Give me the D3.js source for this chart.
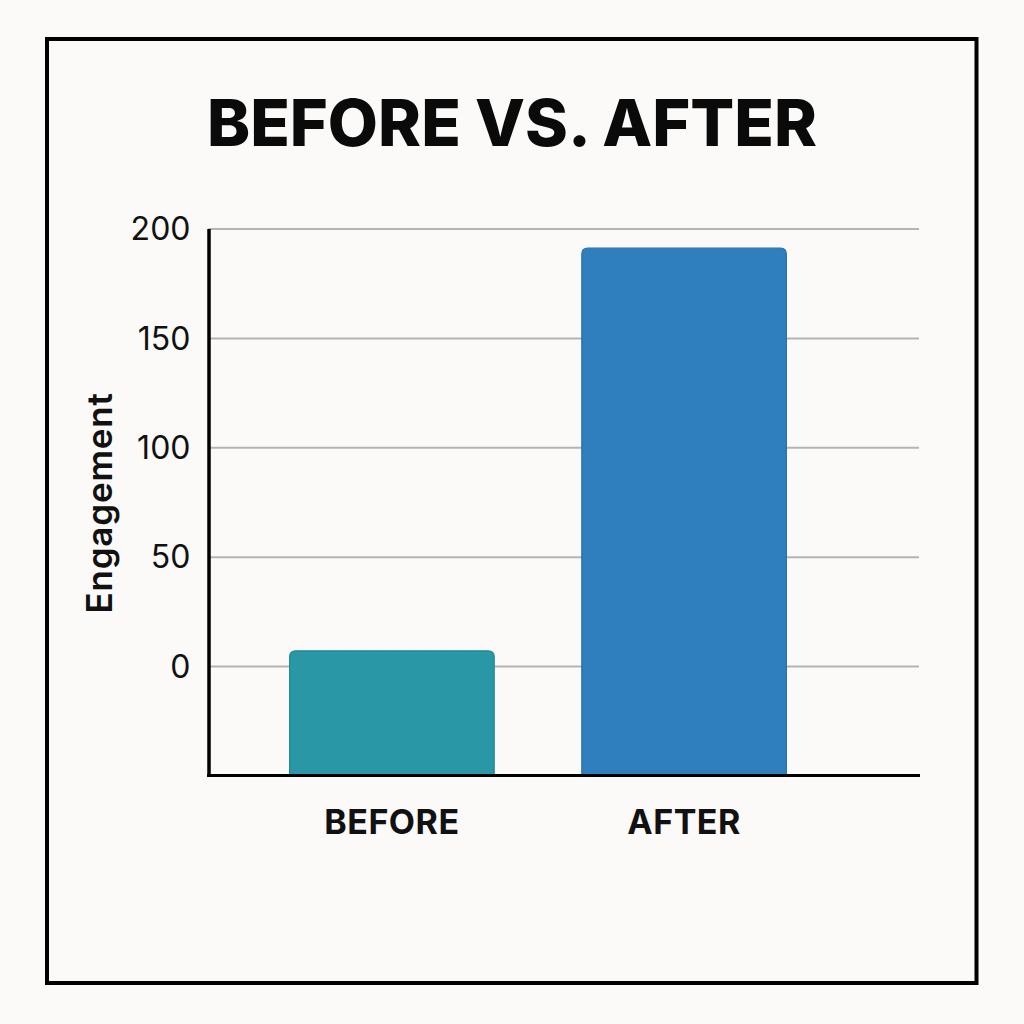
<!DOCTYPE html>
<html>
<head>
<meta charset="utf-8">
<script src="https://cdn.jsdelivr.net/npm/d3@7"></script>
<style>
  html, body { margin: 0; padding: 0; background: #fbfaf8; }
  svg { display: block; }
</style>
</head>
<body>
<svg id="chart" width="1024" height="1024"></svg>
<script>
const categories = ["BEFORE", "AFTER"];
const values = [7, 191];
const barColors = ["#2a97a6", "#2f7ebd"];
const barStrokes = ["#1f8797", "#2270b2"];
const yTicks = [0, 50, 100, 150, 200];
const yDomain = [-50, 200];
const titleText = "BEFORE VS. AFTER";
const yLabel = "Engagement";

const svg = d3.select("#chart");
const font = "Inter, 'Noto Sans', sans-serif";

svg.append("rect").attr("width", 1024).attr("height", 1024).attr("fill", "#fbfaf8");
svg.append("rect")
  .attr("x", 47).attr("y", 39).attr("width", 929.5).attr("height", 944)
  .attr("fill", "none").attr("stroke", "#000").attr("stroke-width", 4);

const plotLeft = 208.5, plotRight = 919;
const y = d3.scaleLinear().domain(yDomain).range([775.5, 228.5]);
const x = d3.scaleBand().domain(categories).range([202, 874]).paddingInner(0.3).paddingOuter(0.3);

// gridlines
const grid = svg.append("g").attr("transform", `translate(${plotLeft},0)`)
  .call(d3.axisRight(y).tickValues(yTicks).tickSize(plotRight - plotLeft).tickFormat(""));
grid.select(".domain").remove();
grid.selectAll("line").attr("stroke", "#b4b4b4").attr("stroke-width", 2);

// bars with rounded top corners
const r = 6;
svg.append("g").selectAll("path").data(categories).join("path")
  .attr("d", (d, i) => {
    const x0 = x(d), w = x.bandwidth(), y0 = y(values[i]), yb = y(yDomain[0]);
    return `M${x0},${yb}V${y0 + r}Q${x0},${y0} ${x0 + r},${y0}H${x0 + w - r}Q${x0 + w},${y0} ${x0 + w},${y0 + r}V${yb}Z`;
  })
  .attr("fill", (d, i) => barColors[i])
  .attr("stroke", (d, i) => barStrokes[i])
  .attr("stroke-width", 1.2);

// y axis
const yAxis = svg.append("g").attr("transform", `translate(${plotLeft},0)`)
  .call(d3.axisLeft(y).tickValues(yTicks).tickSize(0).tickPadding(18));
yAxis.select(".domain").attr("stroke", "#000").attr("stroke-width", 3.5);
yAxis.selectAll("text").attr("font-family", font).attr("font-size", 32).attr("fill", "#111").attr("dy", "0.35em");

// x axis baseline
const xAxis = svg.append("g").attr("transform", `translate(0,${y(yDomain[0])})`)
  .call(d3.axisBottom(x).tickSize(0).tickPadding(34));
xAxis.select(".domain").remove();
svg.append("line").attr("x1", plotLeft - 1.5).attr("x2", plotRight + 1).attr("y1", y(yDomain[0])).attr("y2", y(yDomain[0]))
  .attr("stroke", "#000").attr("stroke-width", 3);
xAxis.selectAll("text").attr("font-family", font).attr("font-size", 34).attr("font-weight", 700)
  .attr("fill", "#111").attr("letter-spacing", "0.5px");

// title
svg.append("text").attr("x", 512).attr("y", 146).attr("text-anchor", "middle")
  .attr("font-family", font).attr("font-size", 65).attr("font-weight", 800)
  .attr("fill", "#0a0a0a").text(titleText);

// y label
svg.append("text").attr("transform", "translate(112,503) rotate(-90)")
  .attr("text-anchor", "middle").attr("font-family", font).attr("font-size", 35).attr("font-weight", 600)
  .attr("fill", "#111").attr("letter-spacing", "0.8px").text(yLabel);
</script>
</body>
</html>
